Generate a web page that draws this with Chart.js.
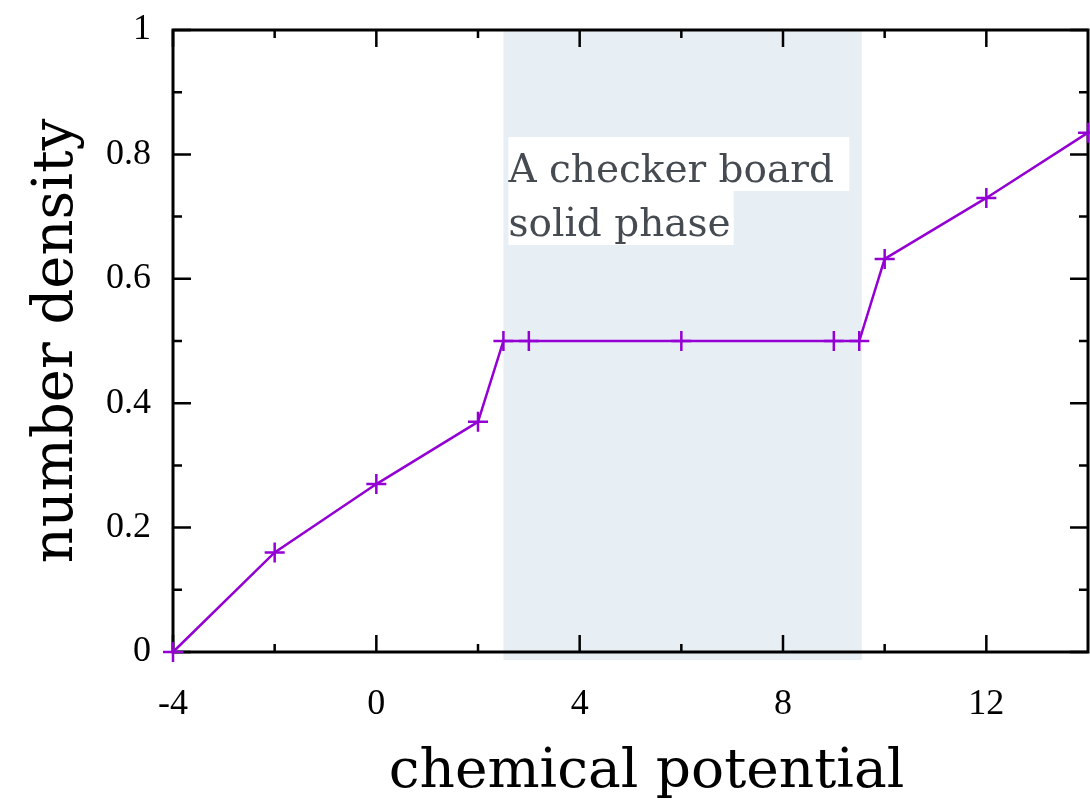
<!DOCTYPE html>
<html>
<head>
<meta charset="utf-8">
<script src="https://cdn.jsdelivr.net/npm/chart.js@4"></script>
<style>
  html, body { margin: 0; padding: 0; background: #fff; }
  #wrap { width: 1090px; height: 810px; }
</style>
</head>
<body>
<div id="wrap"><canvas id="densityChart" width="1090" height="810"></canvas></div>
<script>
// number density vs chemical potential
const mu = [-4, -2, 0, 2, 2.5, 3, 6, 9, 9.5, 10, 12, 14];
const density = [0, 0.16, 0.27, 0.37, 0.5, 0.5, 0.5, 0.5, 0.5, 0.632, 0.73, 0.835];

const xTickValues = [-4, 0, 4, 8, 12];
const xTickLabels = ["-4", "0", "4", "8", "12"];
const xMinorTicks = [-2, 2, 6, 10];
const yTickValues = [0, 0.2, 0.4, 0.6, 0.8, 1];
const yTickLabels = ["0", "0.2", "0.4", "0.6", "0.8", "1"];
const yMinorTicks = [0.1, 0.3, 0.5, 0.7, 0.9];

// shaded region: checker board solid phase
const phaseRange = [2.5, 9.55];
const phaseLabel = ["A checker board ", "solid phase"];
const phaseLabelTop = 0.828;

const xTitle = "chemical potential";
const purple = "#9400d3";

// band, label box, border and inward ticks (gnuplot style)
const framePlugin = {
  id: "frame",
  beforeDatasetsDraw(chart) {
    const { ctx, chartArea: a, scales: { x, y } } = chart;
    ctx.save();

    const x0 = x.getPixelForValue(phaseRange[0]);
    const x1 = x.getPixelForValue(phaseRange[1]);
    ctx.fillStyle = "#e8eff4";
    ctx.fillRect(x0, a.top, x1 - x0, a.bottom - a.top + 8);

    ctx.font = "39px 'DejaVu Serif'";
    ctx.textBaseline = "alphabetic";
    const tx = x0 + 5;
    let top = y.getPixelForValue(phaseLabelTop);
    phaseLabel.forEach((line) => {
      const w = ctx.measureText(line).width;
      ctx.fillStyle = "#fff";
      ctx.fillRect(tx, top, w + 3, 54);
      ctx.fillStyle = "#464b52";
      ctx.fillText(line, tx, top + 45);
      top += 54;
    });

    ctx.strokeStyle = "#000";
    ctx.lineWidth = 3;
    ctx.strokeRect(a.left, a.top, a.right - a.left, a.bottom - a.top);

    ctx.lineWidth = 2.5;
    ctx.beginPath();
    const xTick = (v, len) => {
      const px = x.getPixelForValue(v);
      ctx.moveTo(px, a.bottom); ctx.lineTo(px, a.bottom - len);
      ctx.moveTo(px, a.top); ctx.lineTo(px, a.top + len);
    };
    const yTick = (v, len) => {
      const py = y.getPixelForValue(v);
      ctx.moveTo(a.left, py); ctx.lineTo(a.left + len, py);
      ctx.moveTo(a.right, py); ctx.lineTo(a.right - len, py);
    };
    xTickValues.forEach((v) => xTick(v, 17));
    xMinorTicks.forEach((v) => xTick(v, 8));
    yTickValues.forEach((v) => yTick(v, 18));
    yMinorTicks.forEach((v) => yTick(v, 9));
    ctx.stroke();

    // x axis title, sits a little right of the plot centre
    ctx.fillStyle = "#000";
    ctx.font = "55px 'DejaVu Serif'";
    ctx.textAlign = "center";
    ctx.fillText(xTitle, (a.left + a.right) / 2 + 16, 787);
    ctx.restore();
  },
};

const noPad = (s) => {
  s.paddingTop = 0;
  s.paddingBottom = 0;
  s.paddingLeft = 0;
  s.paddingRight = 0;
};

const ctx = document.getElementById("densityChart").getContext("2d");
new Chart(ctx, {
  type: "line",
  data: {
    datasets: [
      {
        data: mu.map((m, i) => ({ x: m, y: density[i] })),
        borderColor: purple,
        borderWidth: 2.5,
        tension: 0,
        fill: false,
        clip: false,
        pointStyle: "cross",
        pointRadius: 10,
        pointBorderWidth: 2.5,
        pointBorderColor: purple,
        pointBackgroundColor: purple,
      },
    ],
  },
  options: {
    responsive: false,
    animation: false,
    layout: { autoPadding: false, padding: { top: 30, right: 2, left: 0, bottom: 0 } },
    plugins: { legend: { display: false }, tooltip: { enabled: false } },
    scales: {
      x: {
        type: "linear",
        min: -4,
        max: 14,
        afterBuildTicks: (s) => { s.ticks = xTickValues.map((v) => ({ value: v })); },
        afterFit: (s) => { s.height = 158; noPad(s); },
        grid: { display: false, drawTicks: false },
        border: { display: false },
        ticks: {
          autoSkip: false,
          maxRotation: 0,
          padding: 31,
          color: "#000",
          font: { family: "'Liberation Serif'", size: 36 },
          callback: (v, i) => xTickLabels[i],
        },
      },
      y: {
        min: 0,
        max: 1,
        afterBuildTicks: (s) => { s.ticks = yTickValues.map((v) => ({ value: v })); },
        afterFit: (s) => { s.width = 173; noPad(s); },
        grid: { display: false, drawTicks: false },
        border: { display: false },
        ticks: {
          autoSkip: false,
          padding: 22,
          color: "#000",
          font: { family: "'Liberation Serif'", size: 36 },
          callback: (v, i) => yTickLabels[i],
        },
        title: {
          display: true,
          text: "number density",
          color: "#000",
          font: { family: "'DejaVu Serif'", size: 56 },
          padding: { top: 24, bottom: 0 },
        },
      },
    },
  },
  plugins: [framePlugin],
});
</script>
</body>
</html>
